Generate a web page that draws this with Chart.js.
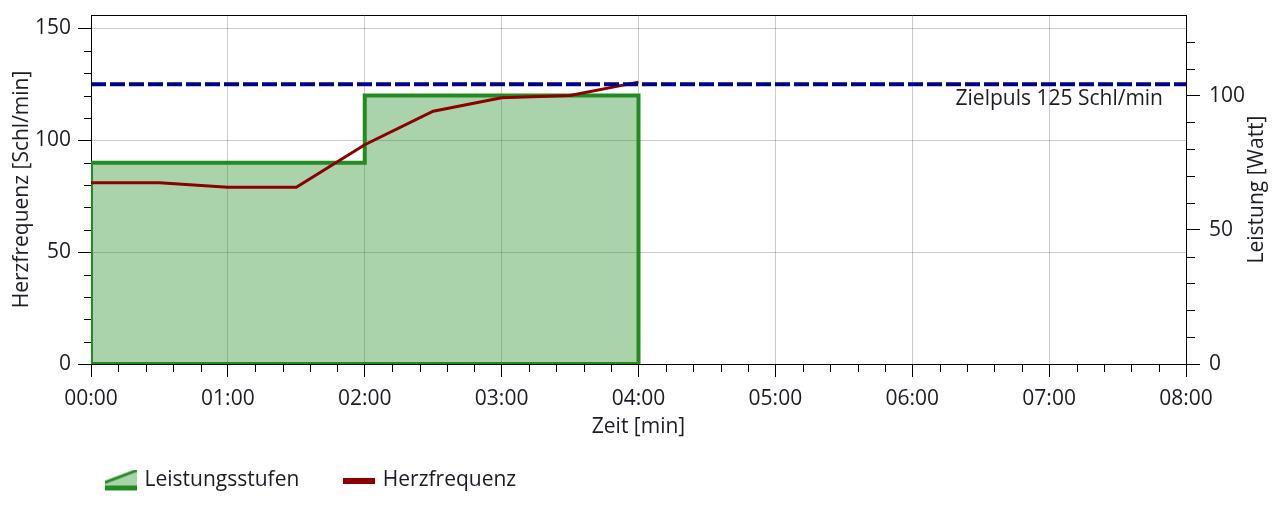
<!DOCTYPE html>
<html lang="de">
<head>
<meta charset="utf-8">
<title>Herzfrequenz / Leistung</title>
<script src="https://cdn.jsdelivr.net/npm/chart.js@4.4.1/dist/chart.umd.min.js"></script>
<style>
    html,body{margin:0;padding:0;background:#fff;}
    #wrap{position:relative;width:1280px;height:508px;}
</style>
</head>
<body>
<div id="wrap"><canvas id="chart"></canvas></div>
<script>

// Leistungsstufen: Startzeiten (min), letzter Wert = Ende
const powerTimes = [0, 2, 4];
const powerWatts = [75, 100];

// Herzfrequenz alle 30 s
const hrTimes = [0, 0.5, 1, 1.5, 2, 2.5, 3, 3.5, 4];
const hrValues = [81, 81, 79, 79, 98, 113, 119, 120, 126];

const targetPulse = 125;

const timeTicks = [0, 1, 2, 3, 4, 5, 6, 7, 8];
const timeLabels = ["00:00","01:00","02:00","03:00","04:00","05:00","06:00","07:00","08:00"];
const hrTicks = [0, 50, 100, 150];
const wattTicks = [0, 50, 100];

const hrMax = 156;
const wattMax = 130;

const GREEN = "#228b22";
const GREEN_FILL = "rgba(34,139,34,0.38)";
const RED = "#8b0000";
const BLUE = "#00008b";
const TEXT = "#1c1c24";
const FONT = "'Open Sans', 'Noto Sans', sans-serif";
const FSIZE = 21;

Chart.defaults.font.family = FONT;
Chart.defaults.font.size = FSIZE;
Chart.defaults.color = TEXT;

// Stufen: links hoch, oben entlang, rechts runter
const powerPoints = [{x: powerTimes[0], y: 0}];
powerWatts.forEach((w, i) => {
    powerPoints.push({x: powerTimes[i], y: w});
    powerPoints.push({x: powerTimes[i + 1], y: w});
});
powerPoints.push({x: powerTimes[powerTimes.length - 1], y: 0});

// Unterkante der Stufen
const powerBase = [
    {x: powerTimes[0], y: 0},
    {x: powerTimes[powerTimes.length - 1], y: 0}
];

const hrPoints = hrTimes.map((t, i) => ({x: t, y: hrValues[i]}));
const targetPoints = [
    {x: timeTicks[0], y: targetPulse},
    {x: timeTicks[timeTicks.length - 1], y: targetPulse}
];

function powerIcon(){
    const c = document.createElement("canvas");
    c.width = 32; c.height = 22;
    const g = c.getContext("2d");
    g.fillStyle = GREEN_FILL;
    g.beginPath();
    g.moveTo(0, 13); g.lineTo(32, 1); g.lineTo(32, 17); g.lineTo(0, 17);
    g.closePath(); g.fill();
    g.strokeStyle = GREEN; g.lineWidth = 3;
    g.beginPath(); g.moveTo(0, 13); g.lineTo(32, 1); g.stroke();
    g.fillStyle = GREEN;
    g.fillRect(0, 16, 32, 5);
    return c;
}

function hrIcon(){
    const c = document.createElement("canvas");
    c.width = 32; c.height = 6;
    const g = c.getContext("2d");
    g.fillStyle = RED;
    g.fillRect(0, 0, 32, 6);
    return c;
}

const icons = [powerIcon(), hrIcon()];

function noPad(s){
    s.paddingTop = 0; s.paddingBottom = 0;
    s.paddingLeft = 0; s.paddingRight = 0;
}

// Nebenstriche, Rahmen oben, Zusatztexte
const extras = {
    id: "extras",
    beforeDraw(chart){
        // Legende an die Position des Originals schieben
        chart.legend.left = 61;
        chart.legend.top = 424;
    },
    afterDraw(chart){
        const {ctx, chartArea, scales} = chart;
        const x = scales.x, y = scales.y, yR = scales.yR;
        ctx.save();
        ctx.strokeStyle = "#000";
        ctx.lineWidth = 1;
        ctx.beginPath();
        for(let i = 0; i <= 40; i++){
            if(i % 5 === 0) continue;
            const px = Math.round(x.getPixelForValue(i / 5)) + 0.5;
            ctx.moveTo(px, chartArea.bottom);
            ctx.lineTo(px, chartArea.bottom + 8);
        }
        for(let v = 0; v <= hrMax; v += 10){
            if(v % 50 === 0) continue;
            const py = Math.round(y.getPixelForValue(v)) + 0.5;
            ctx.moveTo(chartArea.left - 7, py);
            ctx.lineTo(chartArea.left, py);
        }
        for(let v = 0; v < wattMax; v += 10){
            if(v % 50 === 0) continue;
            const py = Math.round(yR.getPixelForValue(v)) + 0.5;
            ctx.moveTo(chartArea.right, py);
            ctx.lineTo(chartArea.right + 9, py);
        }
        const top = Math.round(chartArea.top) + 0.5;
        ctx.moveTo(chartArea.left, top);
        ctx.lineTo(chartArea.right, top);
        ctx.stroke();

        ctx.fillStyle = TEXT;
        ctx.font = FSIZE + "px " + FONT;
        ctx.textAlign = "right";
        ctx.textBaseline = "middle";
        ctx.fillText("Zielpuls " + targetPulse + " Schl/min",
            x.getPixelForValue(8) - 23, y.getPixelForValue(targetPulse) + 15);

        ctx.translate(1257, (chartArea.top + chartArea.bottom) / 2);
        ctx.rotate(-Math.PI / 2);
        ctx.textAlign = "center";
        ctx.fillText("Leistung [Watt]", 0, 0);
        ctx.restore();
    }
};

const chart = new Chart(
    document.getElementById("chart"),
    {
        type: "line",
        data: {
            datasets: [
                {
                    label: "Leistungsstufen",
                    data: powerPoints,
                    yAxisID: "yR",
                    borderColor: GREEN,
                    backgroundColor: GREEN_FILL,
                    borderWidth: 4,
                    fill: "origin",
                    pointRadius: 0,
                    tension: 0,
                    clip: 0,
                    order: 3
                },
                {
                    label: "Herzfrequenz",
                    data: hrPoints,
                    yAxisID: "y",
                    borderColor: RED,
                    backgroundColor: RED,
                    borderWidth: 3,
                    pointRadius: 0,
                    tension: 0,
                    order: 2
                },
                {
                    label: "Zielpuls",
                    data: targetPoints,
                    yAxisID: "y",
                    borderColor: BLUE,
                    borderWidth: 4,
                    borderDash: [15, 4],
                    pointRadius: 0,
                    order: 1
                },
                {
                    label: "Basis",
                    data: powerBase,
                    yAxisID: "yR",
                    borderColor: GREEN,
                    borderWidth: 4,
                    pointRadius: 0,
                    clip: 0,
                    order: 4
                }
            ]
        },
        options: {
            responsive: true,
            maintainAspectRatio: false,
            animation: false,
            layout: {padding: {top: 15, left: 0, right: 0, bottom: 0}},
            scales: {
                x: {
                    type: "linear",
                    min: timeTicks[0],
                    max: timeTicks[timeTicks.length - 1],
                    afterBuildTicks: s => { s.ticks = timeTicks.map(v => ({value: v})); },
                    afterFit: s => { noPad(s); s.height = 84; },
                    ticks: {
                        padding: 9,
                        maxRotation: 0,
                        color: TEXT,
                        callback: (v, i) => timeLabels[i]
                    },
                    grid: {
                        color: "rgba(0,0,0,0.2)",
                        tickColor: "#000",
                        tickLength: 13
                    },
                    border: {color: "#000", width: 1},
                    title: {
                        display: true,
                        text: "Zeit [min]",
                        color: TEXT,
                        padding: {top: 0, bottom: 8}
                    }
                },
                y: {
                    type: "linear",
                    position: "left",
                    min: 0,
                    max: hrMax,
                    afterBuildTicks: s => { s.ticks = hrTicks.map(v => ({value: v})); },
                    afterFit: s => { noPad(s); s.width = 91; },
                    ticks: {padding: 7, color: TEXT},
                    grid: {
                        color: "rgba(0,0,0,0.2)",
                        tickColor: "#000",
                        tickLength: 13
                    },
                    border: {color: "#000", width: 1},
                    title: {
                        display: true,
                        text: "Herzfrequenz [Schl/min]",
                        color: TEXT,
                        padding: {top: 9, bottom: 0}
                    }
                },
                yR: {
                    type: "linear",
                    position: "right",
                    min: 0,
                    max: wattMax,
                    afterBuildTicks: s => { s.ticks = wattTicks.map(v => ({value: v})); },
                    afterFit: s => { noPad(s); s.width = 94; },
                    ticks: {padding: 9, color: TEXT},
                    grid: {
                        drawOnChartArea: false,
                        tickColor: "#000",
                        tickLength: 14
                    },
                    border: {color: "#000", width: 1}
                }
            },
            plugins: {
                tooltip: {enabled: false},
                legend: {
                    position: "bottom",
                    align: "start",
                    maxHeight: 60,
                    labels: {
                        color: TEXT,
                        usePointStyle: true,
                        pointStyleWidth: 27,
                        padding: 46,
                        generateLabels: c => Chart.defaults.plugins.legend.labels
                            .generateLabels(c)
                            .filter(l => l.datasetIndex < 2)
                            .sort((a, b) => a.datasetIndex - b.datasetIndex)
                            .map(l => Object.assign(l, {pointStyle: icons[l.datasetIndex]}))
                    }
                }
            }
        },
        plugins: [extras]
    }
);
</script>
</body>
</html>
